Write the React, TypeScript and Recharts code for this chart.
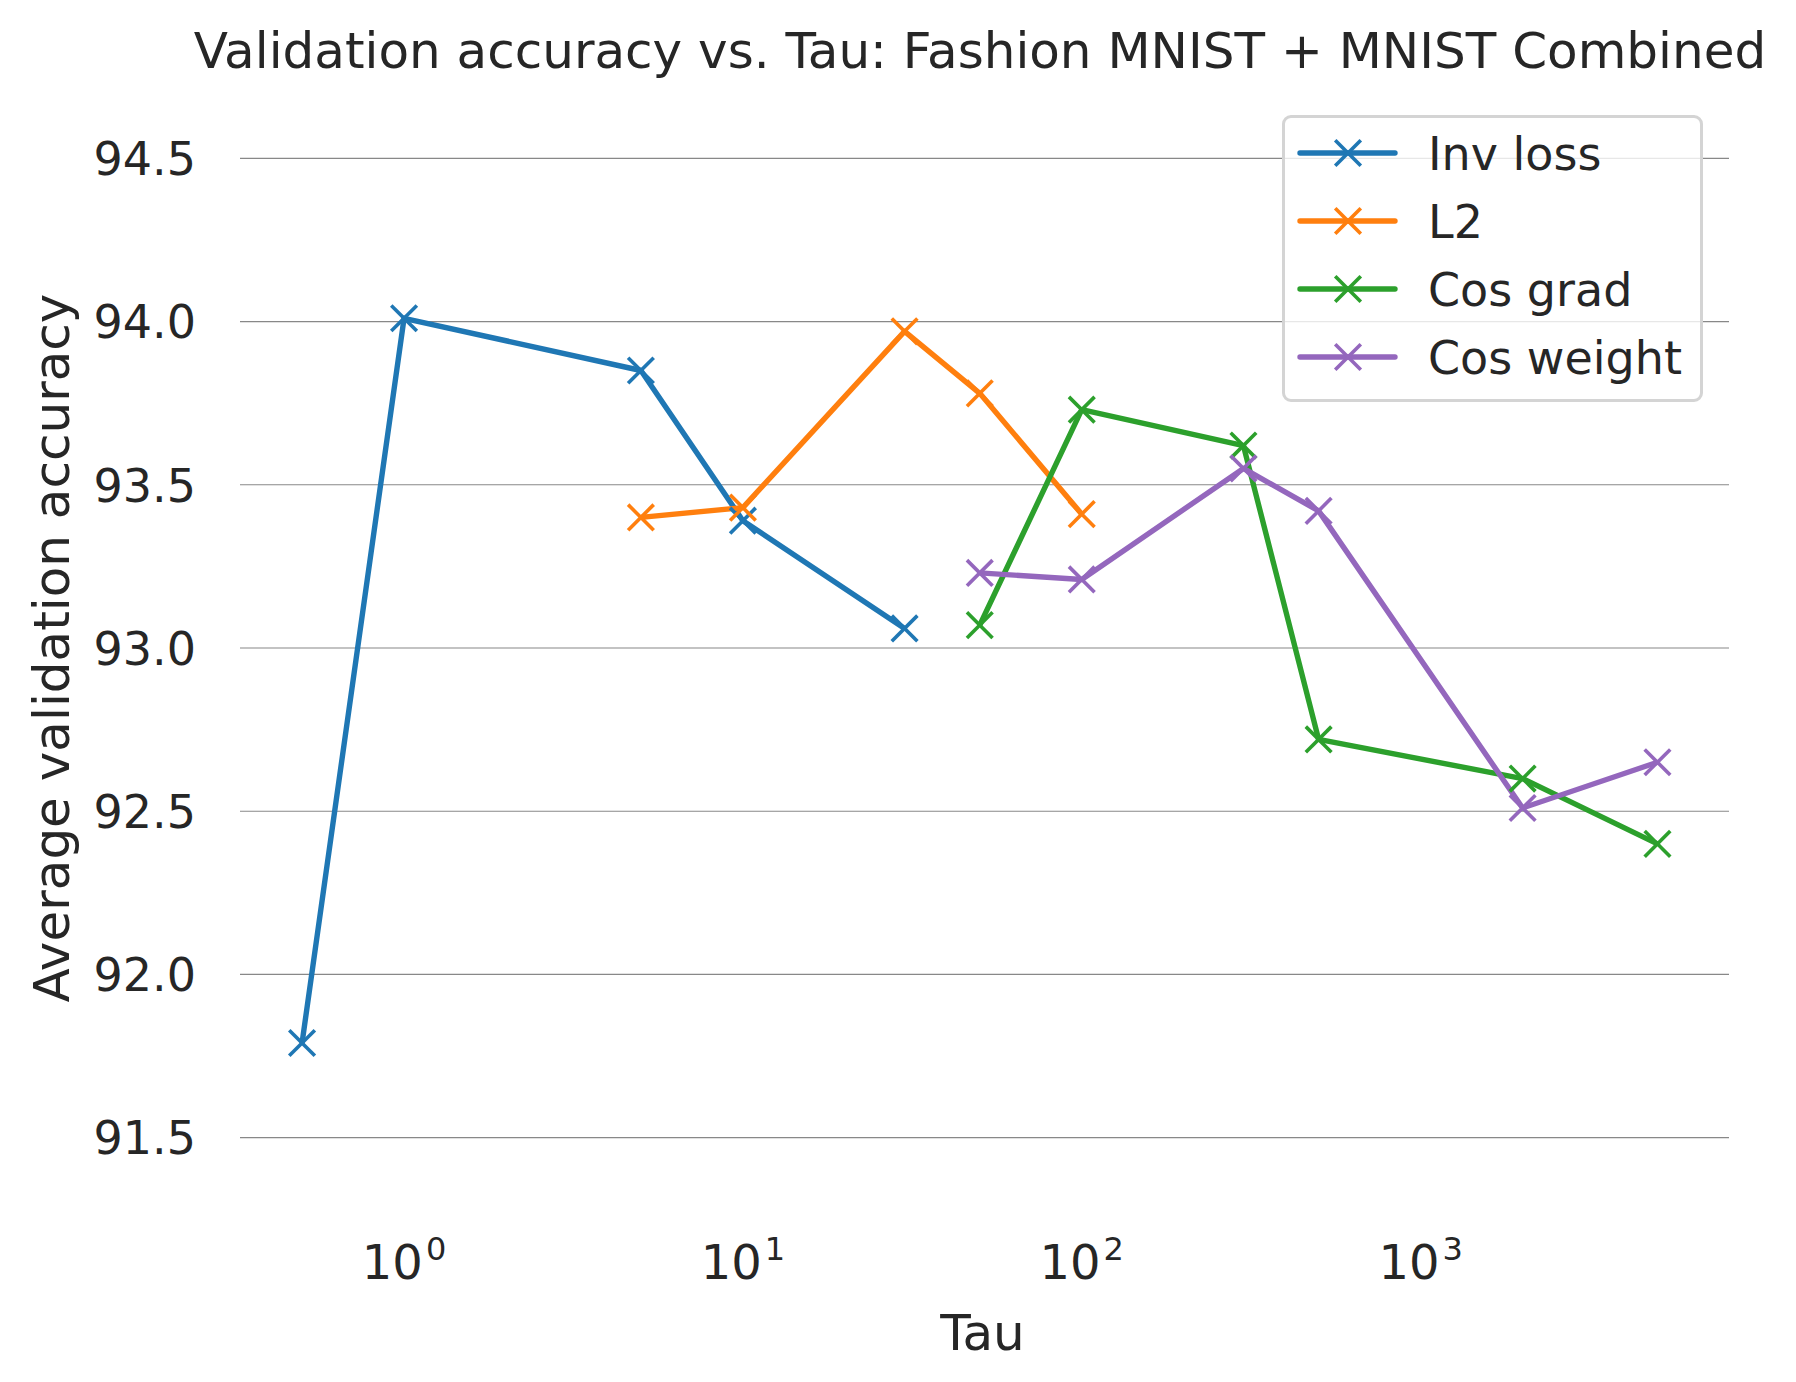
import React from "react";
import { LineChart, Line, XAxis, YAxis, CartesianGrid, Legend } from "recharts";

// tau values per method
const invLossTau = [0.5, 1, 5, 10, 30];
const invLossAcc = [91.79, 94.01, 93.85, 93.39, 93.06];

const l2Tau = [5, 10, 30, 50, 100];
const l2Acc = [93.4, 93.43, 93.97, 93.78, 93.41];

const cosGradTau = [50, 100, 300, 500, 2000, 5000];
const cosGradAcc = [93.07, 93.73, 93.62, 92.72, 92.6, 92.4];

const cosWeightTau = [50, 100, 300, 500, 2000, 5000];
const cosWeightAcc = [93.23, 93.21, 93.55, 93.42, 92.51, 92.65];

const xTicks = [1, 10, 100, 1000];
const yTicks = [91.5, 92.0, 92.5, 93.0, 93.5, 94.0, 94.5];

const toRows = (tau: number[], acc: number[]) => tau.map((t, i) => ({ tau: t, acc: acc[i] }));

const series = [
  { name: "Inv loss", color: "#1f77b4", data: toRows(invLossTau, invLossAcc) },
  { name: "L2", color: "#ff7f0e", data: toRows(l2Tau, l2Acc) },
  { name: "Cos grad", color: "#2ca02c", data: toRows(cosGradTau, cosGradAcc) },
  { name: "Cos weight", color: "#9467bd", data: toRows(cosWeightTau, cosWeightAcc) },
];

const FONT = "'DejaVu Sans', sans-serif";
const INK = "#262626";
const MARK = 12.8;
const LINE_W = 5.4;
const MARK_W = 3.6;

function Cross({ cx, cy, stroke }: { cx?: number; cy?: number; stroke?: string }) {
  if (cx == null || cy == null) return null;
  return (
    <g>
      <line x1={cx - MARK} y1={cy - MARK} x2={cx + MARK} y2={cy + MARK} stroke={stroke} strokeWidth={MARK_W} />
      <line x1={cx - MARK} y1={cy + MARK} x2={cx + MARK} y2={cy - MARK} stroke={stroke} strokeWidth={MARK_W} />
    </g>
  );
}

function XTick({ x, y, payload }: any) {
  const exp = Math.round(Math.log10(payload.value));
  return (
    <text x={x} y={y + 76} textAnchor="middle" fill={INK} fontFamily={FONT}>
      <tspan fontSize={48}>10</tspan>
      <tspan fontSize={32} dx={3} dy={-19}>
        {exp}
      </tspan>
    </text>
  );
}

function YTick({ x, y, payload }: any) {
  return (
    <text x={x} y={y} dy="0.3645em" textAnchor="end" fill={INK} fontFamily={FONT} fontSize={46}>
      {payload.value.toFixed(1)}
    </text>
  );
}

function LegendBox() {
  return (
    <div
      style={{
        position: "relative",
        width: 421,
        height: 287,
        boxSizing: "border-box",
        border: "3px solid #d4d4d4",
        borderRadius: 9,
        background: "rgba(255,255,255,0.8)",
      }}
    >
      <svg width={415} height={281} style={{ position: "absolute", left: 0, top: 0 }}>
        {series.map((s, i) => {
          const cy = 35 + i * 68;
          return (
            <g key={s.name}>
              <line x1={15} y1={cy} x2={110} y2={cy} stroke={s.color} strokeWidth={LINE_W} strokeLinecap="round" />
              <Cross cx={63} cy={cy} stroke={s.color} />
              <text x={143} y={cy} dy="0.3645em" fontFamily={FONT} fontSize={46} fill={INK}>
                {s.name}
              </text>
            </g>
          );
        })}
      </svg>
    </div>
  );
}

export default function App() {
  return (
    <div style={{ position: "absolute", left: 0, top: 0, width: 1796, height: 1382, background: "#fff" }}>
      <LineChart width={1796} height={1382} margin={{ top: 93, right: 67, bottom: 0, left: 0 }}>
        <CartesianGrid horizontal vertical={false} stroke="#888" strokeWidth={1.2} horizontalValues={yTicks} />
        <XAxis
          dataKey="tau"
          type="number"
          scale="log"
          domain={[0.328, 8130]}
          allowDataOverflow
          ticks={xTicks}
          height={179}
          axisLine={false}
          tickLine={false}
          tickSize={0}
          tickMargin={0}
          tick={<XTick />}
          interval={0}
        />
        <YAxis
          type="number"
          domain={[91.3, 94.7]}
          allowDataOverflow
          ticks={yTicks}
          width={240}
          axisLine={false}
          tickLine={false}
          tickSize={0}
          tickMargin={44}
          tick={<YTick />}
          interval={0}
        />
        {series.map((s) => (
          <Line
            key={s.name}
            data={s.data}
            dataKey="acc"
            name={s.name}
            type="linear"
            stroke={s.color}
            strokeWidth={LINE_W}
            strokeLinejoin="round"
            dot={<Cross stroke={s.color} />}
            activeDot={false}
            isAnimationActive={false}
          />
        ))}
        <Legend
          layout="vertical"
          align="center"
          verticalAlign="middle"
          content={<LegendBox />}
          wrapperStyle={{ left: 1282, top: 115, width: 421, height: 287 }}
        />
        <text x={980} y={68} textAnchor="middle" fontFamily={FONT} fontSize={50} fill={INK}>
          Validation accuracy vs. Tau: Fashion MNIST + MNIST Combined
        </text>
        <text x={982.5} y={1350} textAnchor="middle" fontFamily={FONT} fontSize={50} fill={INK}>
          Tau
        </text>
        <text
          x={69}
          y={648}
          textAnchor="middle"
          transform="rotate(-90 69 648)"
          fontFamily={FONT}
          fontSize={50}
          fill={INK}
        >
          Average validation accuracy
        </text>
      </LineChart>
    </div>
  );
}
